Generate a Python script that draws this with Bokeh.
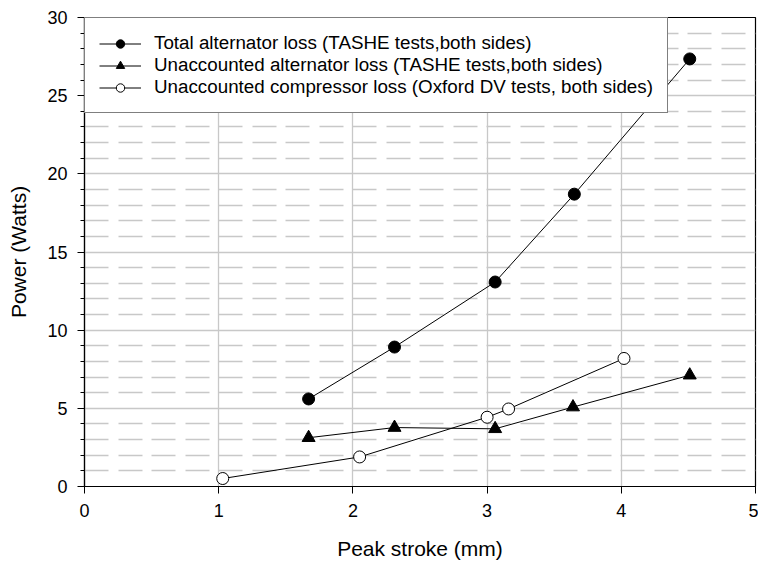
from bokeh.plotting import figure
from bokeh.models import FixedTicker, Legend, LegendItem
from bokeh.embed import file_html
from bokeh.resources import INLINE

# Data
total_alt_x = [1.67, 2.31, 3.06, 3.65, 4.51]
total_alt_y = [5.6, 8.92, 13.08, 18.7, 27.35]

unacc_alt_x = [1.67, 2.31, 3.06, 3.64, 4.51]
unacc_alt_y = [3.12, 3.77, 3.69, 5.08, 7.12]

unacc_comp_x = [1.03, 2.05, 3.0, 3.16, 4.02]
unacc_comp_y = [0.51, 1.89, 4.43, 4.96, 8.19]

labels = [
    "Total alternator loss (TASHE tests,both sides)",
    "Unaccounted alternator loss (TASHE tests,both sides)",
    "Unaccounted compressor loss (Oxford DV tests, both sides)",
]

x_ticks = [0, 1, 2, 3, 4, 5]
y_ticks = [0, 5, 10, 15, 20, 25, 30]
y_minor = [v for v in range(0, 31) if v % 5 != 0]

FONT = "Liberation Sans"

p = figure(width=758, height=564, output_backend="svg", toolbar_location=None,
           x_range=(0, 5), y_range=(0, 30),
           min_border_left=84, min_border_right=3, min_border_top=17, min_border_bottom=78)

p.background_fill_color = "white"
p.border_fill_color = "white"
p.outline_line_color = "black"
p.outline_line_width = 1.2

# axes
for ax in (p.xaxis[0], p.yaxis[0]):
    ax.axis_line_color = "black"
    ax.axis_line_width = 1.2
    ax.major_tick_line_color = "black"
    ax.major_tick_in = 0
    ax.major_tick_out = 7
    ax.major_label_text_font = FONT
    ax.major_label_text_font_size = "18px"
    ax.major_label_text_color = "black"
    ax.major_label_standoff = 10
    ax.axis_label_text_font = FONT
    ax.axis_label_text_font_size = "21px"
    ax.axis_label_text_font_style = "normal"
    ax.axis_label_text_color = "black"

p.xaxis[0].ticker = FixedTicker(ticks=x_ticks)
p.xaxis[0].minor_tick_line_color = None
p.xaxis[0].axis_label = "Peak stroke (mm)"
p.xaxis[0].axis_label_standoff = 17

p.yaxis[0].ticker = FixedTicker(ticks=y_ticks, minor_ticks=y_minor)
p.yaxis[0].minor_tick_line_color = "black"
p.yaxis[0].minor_tick_in = 0
p.yaxis[0].minor_tick_out = 4
p.yaxis[0].axis_label = "Power (Watts)"
p.yaxis[0].axis_label_standoff = 14

# grids
p.xgrid.grid_line_color = "#c8c8c8"
p.xgrid.grid_line_width = 1.3
p.ygrid.grid_line_color = "#c8c8c8"
p.ygrid.grid_line_width = 1.3
p.ygrid.minor_grid_line_color = "#c8c8c8"
p.ygrid.minor_grid_line_width = 1.5
p.ygrid.minor_grid_line_dash = "24 10 24 9"

# series
l1 = p.line(total_alt_x, total_alt_y, line_color="black", line_width=1)
s1 = p.scatter(total_alt_x, total_alt_y, marker="circle", size=12,
               fill_color="black", line_color="black")

l2 = p.line(unacc_alt_x, unacc_alt_y, line_color="black", line_width=1)
s2 = p.scatter(unacc_alt_x, unacc_alt_y, marker="triangle", size=13,
               fill_color="black", line_color="black")

l3 = p.line(unacc_comp_x, unacc_comp_y, line_color="black", line_width=1)
s3 = p.scatter(unacc_comp_x, unacc_comp_y, marker="circle", size=12,
               fill_color="white", line_color="black", line_width=1)

legend = Legend(items=[
    LegendItem(label=labels[0], renderers=[l1, s1]),
    LegendItem(label=labels[1], renderers=[l2, s2]),
    LegendItem(label=labels[2], renderers=[l3, s3]),
], location="top_left")
legend.margin = 0
legend.padding = 14
legend.spacing = 0
legend.glyph_width = 42
legend.glyph_height = 21
legend.label_height = 21
legend.label_standoff = 13
legend.label_text_font = FONT
legend.label_text_font_size = "18.8px"
legend.label_text_color = "black"
legend.border_line_color = "black"
legend.border_line_width = 1.2
legend.background_fill_color = "white"
legend.background_fill_alpha = 1.0
p.add_layout(legend)

open("out.html", "w").write(file_html(p, INLINE))
